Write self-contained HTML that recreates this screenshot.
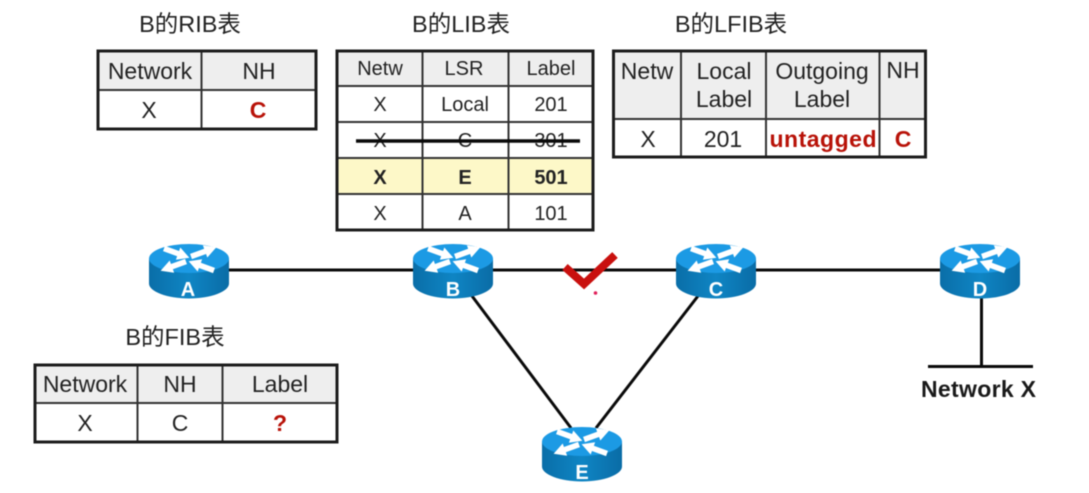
<!DOCTYPE html>
<html><head><meta charset="utf-8"><style>
html,body{margin:0;padding:0;background:#fff;width:1089px;height:493px;overflow:hidden}
svg{display:block;filter:blur(.45px)}
text{font-family:"Liberation Sans","Noto Sans CJK SC",sans-serif;fill:#222;text-anchor:middle}
.t{font-size:23.500px}.h{font-size:23px}.s{font-size:20px}
.b{font-weight:bold}.r{fill:#b81208;font-weight:bold}
.rl{font-size:20px;font-weight:bold;fill:#fff}
.o{fill:none;stroke:#1c1c1c;stroke-width:3}
.i{stroke:#333;stroke-width:2;fill:none}
.l{stroke:#0a0a0a;stroke-width:3;fill:none}
</style></head><body>
<svg width="1089" height="493" viewBox="0 0 1089 493" xmlns="http://www.w3.org/2000/svg">
<defs>
<linearGradient id="g" x1="0" x2="1" y1="0" y2="0"><stop offset="0" stop-color="#0a6ea8"/><stop offset=".5" stop-color="#0f85c4"/><stop offset="1" stop-color="#0a6ca6"/></linearGradient>
<polygon id="ar" points="0,-2.800 15,-2.800 15,-6.500 27,0 15,6.500 15,2.800 0,2.800" fill="#fff"/>
<symbol id="router" overflow="visible">
<path d="M-40 0V25C-40 33-22 40 0 40S40 33 40 25V0Z" fill="url(#g)"/>
<ellipse cx="0" cy="0" rx="40" ry="14.500" fill="#1c9ae4"/>
<use href="#ar" transform="translate(-25 -10) rotate(20)"/>
<use href="#ar" transform="translate(2 -2) rotate(-20)"/>
<use href="#ar" transform="translate(-3 3) rotate(160)"/>
<use href="#ar" transform="translate(25 12) rotate(200)"/>
</symbol>
</defs>
<rect width="1089" height="493" fill="#fff"/>

<!-- titles -->
<text class="t" x="190" y="32">B的RIB表</text>
<text class="t" x="461" y="32">B的LIB表</text>
<text class="t" x="731" y="32">B的LFIB表</text>
<text class="t" x="175" y="345">B的FIB表</text>

<!-- RIB -->
<rect x="98" y="51" width="218" height="39" fill="#eeeeee"/>
<path class="i" d="M201.500 51V129M98 90H316"/>
<rect class="o" x="98" y="51" width="218" height="78"/>
<text class="h" x="150" y="79">Network</text><text class="h" x="259" y="79">NH</text>
<text class="h" x="149" y="118">X</text><text class="h r" x="258" y="118">C</text>

<!-- LIB -->
<rect x="337" y="51" width="256" height="35" fill="#eeeeee"/>
<rect x="337" y="158" width="256" height="36" fill="#fdf8c8"/>
<path class="i" d="M422.500 51V230M508.500 51V230M337 86H593M337 122H593M337 158H593M337 194H593"/>
<rect class="o" x="337" y="51" width="256" height="179"/>
<text class="s" x="380" y="75">Netw</text><text class="s" x="464" y="75">LSR</text><text class="s" x="551" y="75">Label</text>
<text class="s" x="380" y="111">X</text><text class="s" x="465" y="111">Local</text><text class="s" x="551" y="111">201</text>
<text class="s" x="380" y="147">X</text><text class="s" x="465" y="147">C</text><text class="s" x="551" y="147">301</text>
<text class="s b" x="380" y="184">X</text><text class="s b" x="465" y="184">E</text><text class="s b" x="551" y="184">501</text>
<text class="s" x="380" y="220">X</text><text class="s" x="465" y="220">A</text><text class="s" x="551" y="220">101</text>
<path d="M356 141H580" stroke="#0a0a0a" stroke-width="3.500"/>

<!-- LFIB -->
<rect x="614" y="51" width="312" height="68" fill="#eeeeee"/>
<path class="i" d="M681 51V157M766 51V157M879.500 51V157M613 119H926"/>
<rect class="o" x="613.500" y="51" width="312" height="106"/>
<text class="h" x="647" y="79">Netw</text>
<text class="h" x="724" y="79">Local</text><text class="h" x="724" y="107">Label</text>
<text class="h" x="822" y="79">Outgoing</text><text class="h" x="822" y="107">Label</text>
<text class="h" x="903" y="78">NH</text>
<text class="h" x="648" y="147">X</text><text class="h" x="723" y="147">201</text>
<text class="h r" x="823" y="147" textLength="107">untagged</text><text class="h r" x="903" y="147">C</text>

<!-- FIB -->
<rect x="35" y="365" width="302" height="38" fill="#eeeeee"/>
<path class="i" d="M137.500 365V442M222.500 365V442M35 403H337"/>
<rect class="o" x="35" y="365" width="302" height="77"/>
<text class="h" x="85" y="392">Network</text><text class="h" x="180" y="392">NH</text><text class="h" x="280" y="392">Label</text>
<text class="h" x="85" y="431">X</text><text class="h" x="180" y="431">C</text><text class="h r" x="280" y="431">?</text>

<!-- links -->
<path class="l" d="M225 270H985"/>
<path class="l" d="M472 296 571 428M698 296 596 428"/>
<path class="l" d="M981.500 296V366M928 366.500H1033"/>

<!-- check -->
<path d="M565 267 584 284 615 255" fill="none" stroke="#c9100e" stroke-width="8"/>
<circle cx="595.500" cy="293" r="1.800" fill="#e0205a"/>

<!-- routers -->
<use href="#router" x="189" y="258.500"/>
<use href="#router" x="453" y="258.500"/>
<use href="#router" x="716" y="258.500"/>
<use href="#router" x="980" y="258.500"/>
<use href="#router" x="582" y="441.500"/>
<text class="rl" x="188" y="296">A</text>
<text class="rl" x="453" y="296">B</text>
<text class="rl" x="716" y="296">C</text>
<text class="rl" x="980" y="296">D</text>
<text class="rl" x="582" y="479">E</text>

<text x="978.500" y="397" font-size="23" textLength="115" style="fill:#1a1a1a;font-weight:bold">Network X</text>
</svg>
</body></html>
